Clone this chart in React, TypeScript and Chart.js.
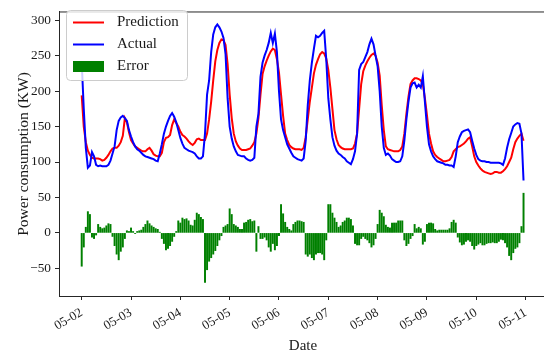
import React, { useEffect, useRef } from 'react';
import { Chart, registerables } from 'chart.js';

Chart.register(...registerables);

// Hourly samples starting 05-02 00:00
const X_TICK_HOURS = [0, 24, 48, 72, 96, 120, 144, 168, 192, 216];
const X_TICK_LABELS = ['05-02', '05-03', '05-04', '05-05', '05-06', '05-07', '05-08', '05-09', '05-10', '05-11'];
const Y_TICKS = [-50, 0, 50, 100, 150, 200, 250, 300];

const PREDICTION = [
  194, 150, 128, 116, 110, 106, 105, 105, 105, 104, 102, 103, 106, 110, 115, 119, 120, 120, 123, 128, 137, 162, 156, 142,
  131, 126, 122, 120, 118, 116, 115, 115, 118, 120, 116, 111, 109, 108, 108, 113, 128, 134, 135, 138, 152, 160, 155, 150,
  143, 138, 136, 133, 129, 126, 124, 127, 132, 133, 131, 131, 131, 140, 160, 185, 215, 242, 258, 268, 273, 272, 265, 238,
  195, 162, 140, 129, 123, 119, 117, 117, 117, 118, 119, 123, 128, 140, 162, 195, 224, 235, 243, 250, 256, 260, 258, 245,
  226, 195, 165, 140, 131, 124, 121, 119, 118, 118, 118, 117, 120, 135, 160, 185, 205, 225, 237, 245, 252, 255, 253, 246,
  230, 205, 175, 145, 132, 124, 121, 119, 118, 118, 118, 118, 119, 126, 140, 175, 210, 228, 236, 242, 247, 251, 253, 250,
  240, 222, 180, 145, 122, 118, 117, 116, 115, 115, 115, 117, 122, 140, 168, 192, 210, 215, 218, 218, 217, 215, 210, 190,
  166, 140, 126, 115, 110, 107, 105, 103, 101, 101, 102, 103, 107, 115, 118, 121, 122, 124, 126, 129, 133, 135, 122, 108,
  100, 95, 91, 88, 86, 85, 84, 83, 84, 86, 86, 85, 85, 87, 90, 94, 100, 106, 118, 128, 133, 137, 140, 130,
];

const ACTUAL = [
  241, 175, 120, 92, 95, 114, 108, 96, 94, 95, 94, 94, 94, 96, 102, 112, 122, 145, 158, 163, 165, 162, 158, 145,
  136, 128, 122, 118, 116, 113, 110, 108, 107, 106, 105, 104, 102, 101, 112, 125, 140, 150, 158, 165, 169, 164, 156, 145,
  134, 126, 120, 118, 116, 115, 114, 112, 108, 105, 105, 108, 140, 195, 215, 255, 280, 290, 294, 290, 284, 275, 252, 190,
  150, 133, 122, 115, 110, 109, 108, 108, 105, 103, 102, 103, 106, 150, 168, 220, 240, 250, 258, 268, 282, 268, 281, 255,
  200, 160, 145, 135, 125, 119, 113, 108, 106, 104, 103, 102, 105, 130, 180, 215, 240, 260, 278, 276, 278, 282, 285, 245,
  190, 160, 135, 123, 116, 112, 110, 107, 105, 101, 99, 97, 104, 115, 140, 230, 238, 241, 248, 255, 266, 274, 266, 250,
  235, 200, 150, 120, 110, 112, 109, 104, 102, 100, 100, 101, 108, 130, 160, 185, 205, 211, 212, 205, 209, 205, 221, 185,
  150, 125, 115, 108, 104, 101, 100, 99, 98, 96, 96, 95, 95, 93, 108, 128, 136, 142, 144, 145, 146, 142, 130, 119,
  110, 104, 102, 101, 101, 100, 100, 99, 99, 99, 99, 99, 98, 96, 105, 120, 132, 141, 150, 153, 155, 154, 140, 74,
];

const ERROR = [
  -47, -20, 8, 30, 26, -6, -8, -3, 12, 8, 6, 7, 10, 13, 12, -5, -18, -30, -38, -26, -20, -8, 3, 2,
  7, 2, -1, 2, 3, 4, 8, 12, 17, 13, 10, 8, 6, 5, 1, -8, -15, -24, -22, -18, -12, -5, 2, 17,
  14, 21, 19, 20, 17, 11, 10, 18, 28, 26, 22, 19, -70, -52, -40, -35, -30, -25, -18, -10, -4, 8, 10, 12,
  34, 26, 12, 10, 8, 5, 5, 14, 15, 18, 19, 16, 17, -26, 9, -8, -8, -6, -10, -20, -26, -15, -24, -18,
  -4, 40, 27, 15, 8, 5, 3, 12, 15, 17, 17, 16, 15, -30, -33, -30, -35, -38, -30, -28, -28, -30, -38, -10,
  40, 40, 28, 21, 15, 8, 10, 15, 17, 21, 21, 19, 10, -15, -17, -17, -8, -5, -8, -10, -14, -20, -17, -8,
  12, 32, 28, 23, 11, 8, 7, 14, 14, 14, 17, 17, 17, -10, -18, -15, -8, -4, 12, 6, 8, 6, -16, -12,
  12, 14, 14, 13, 5, 3, 4, 4, 4, 4, 4, 6, 15, 18, 14, -6, -13, -17, -16, -12, -10, -12, -18, -23,
  -18, -16, -14, -17, -17, -15, -14, -14, -13, -14, -14, -12, -9, -10, -14, -20, -32, -38, -28, -22, -20, -14, 9, 56,
];

const HOURS = PREDICTION.map((_, i) => i);

const FONT = "'Liberation Serif', 'Times New Roman', Times, serif";
const AXIS_COLOR = '#262626';
const TEXT_COLOR = '#1a1a1a';

const decorPlugin = {
  id: 'decor',
  afterDraw(chart: any) {
    const { ctx, chartArea: a } = chart;
    ctx.save();
    // top spine
    ctx.strokeStyle = AXIS_COLOR;
    ctx.lineWidth = 1;
    ctx.beginPath();
    ctx.moveTo(a.left, a.top);
    ctx.lineTo(a.right, a.top);
    ctx.stroke();

    // axis titles
    ctx.fillStyle = TEXT_COLOR;
    ctx.font = `15.5px ${FONT}`;
    ctx.textAlign = 'center';
    ctx.textBaseline = 'middle';
    ctx.save();
    ctx.translate(24, (a.top + a.bottom) / 2);
    ctx.rotate(-Math.PI / 2);
    ctx.fillText('Power consumption (KW)', 0, 0);
    ctx.restore();
    ctx.font = `15px ${FONT}`;
    ctx.fillText('Date', 303, 346);

    // legend
    const bx = 66.5, by = 10.5, bw = 121, bh = 70;
    ctx.beginPath();
    (ctx as any).roundRect(bx, by, bw, bh, 4);
    ctx.fillStyle = 'rgba(255,255,255,0.8)';
    ctx.fill();
    ctx.strokeStyle = '#cccccc';
    ctx.lineWidth = 1;
    ctx.stroke();

    ctx.lineWidth = 2;
    ctx.strokeStyle = '#ff0000';
    ctx.beginPath();
    ctx.moveTo(73, 22.5);
    ctx.lineTo(104, 22.5);
    ctx.stroke();
    ctx.strokeStyle = '#0000ff';
    ctx.beginPath();
    ctx.moveTo(73, 44.5);
    ctx.lineTo(104, 44.5);
    ctx.stroke();
    ctx.fillStyle = '#008000';
    ctx.fillRect(73, 61, 31, 11);

    ctx.fillStyle = TEXT_COLOR;
    ctx.font = `15px ${FONT}`;
    ctx.textAlign = 'left';
    ctx.textBaseline = 'middle';
    ctx.fillText('Prediction', 117, 22.5);
    ctx.fillText('Actual', 117, 44.5);
    ctx.fillText('Error', 117, 66.5);
    ctx.restore();
  },
};

export default function App() {
  const ref = useRef<HTMLCanvasElement | null>(null);

  useEffect(() => {
    if (!ref.current) return;
    const chart = new Chart(ref.current, {
      type: 'line',
      data: {
        datasets: [
          {
            type: 'line',
            label: 'Prediction',
            data: HOURS.map((h, i) => ({ x: h, y: PREDICTION[i] })),
            borderColor: '#ff0000',
            borderWidth: 2,
            pointRadius: 0,
            fill: false,
            tension: 0,
            order: 2,
          },
          {
            type: 'line',
            label: 'Actual',
            data: HOURS.map((h, i) => ({ x: h, y: ACTUAL[i] })),
            borderColor: '#0000ff',
            borderWidth: 2,
            pointRadius: 0,
            fill: false,
            tension: 0,
            order: 1,
          },
          {
            type: 'bar',
            label: 'Error',
            data: HOURS.map((h, i) => ({ x: h, y: ERROR[i] })),
            backgroundColor: '#008000',
            barThickness: 1.3,
            order: 3,
          } as any,
        ],
      },
      options: {
        responsive: false,
        animation: false,
        devicePixelRatio: 1,
        events: [],
        layout: { padding: { top: 2.5, left: 0, right: 0, bottom: 0 } },
        plugins: { legend: { display: false }, tooltip: { enabled: false } },
        scales: {
          x: {
            type: 'linear',
            min: -11.05,
            max: 224.96,
            offset: false,
            afterBuildTicks: (s: any) => {
              s.ticks = X_TICK_HOURS.map((v) => ({ value: v }));
            },
            afterFit: (s: any) => {
              s.height = 62;
            },
            grid: { drawOnChartArea: false, drawTicks: true, tickLength: 4, color: AXIS_COLOR, offset: false },
            border: { display: true, color: AXIS_COLOR, width: 1 },
            ticks: {
              autoSkip: false,
              maxRotation: 30,
              minRotation: 30,
              padding: 5,
              color: TEXT_COLOR,
              font: { family: FONT, size: 13 },
              callback: (_v: any, i: number) => X_TICK_LABELS[i],
            },
          },
          y: {
            type: 'linear',
            min: -89,
            max: 311.6,
            afterBuildTicks: (s: any) => {
              s.ticks = Y_TICKS.map((v) => ({ value: v }));
            },
            afterFit: (s: any) => {
              s.width = 59;
            },
            grid: { drawOnChartArea: false, drawTicks: true, tickLength: 4, color: AXIS_COLOR },
            border: { display: true, color: AXIS_COLOR, width: 1 },
            ticks: {
              padding: 4,
              color: TEXT_COLOR,
              font: { family: FONT, size: 13.3 },
              callback: (v: any) => String(v).replace('-', '\u2212'),
            },
          },
        },
      } as any,
      plugins: [decorPlugin],
    });
    return () => chart.destroy();
  }, []);

  return (
    <div style={{ position: 'fixed', left: 0, top: 0, width: 544, height: 358, background: '#fff' }}>
      <canvas ref={ref} width={544} height={358} style={{ display: 'block', width: 544, height: 358 }} />
    </div>
  );
}
